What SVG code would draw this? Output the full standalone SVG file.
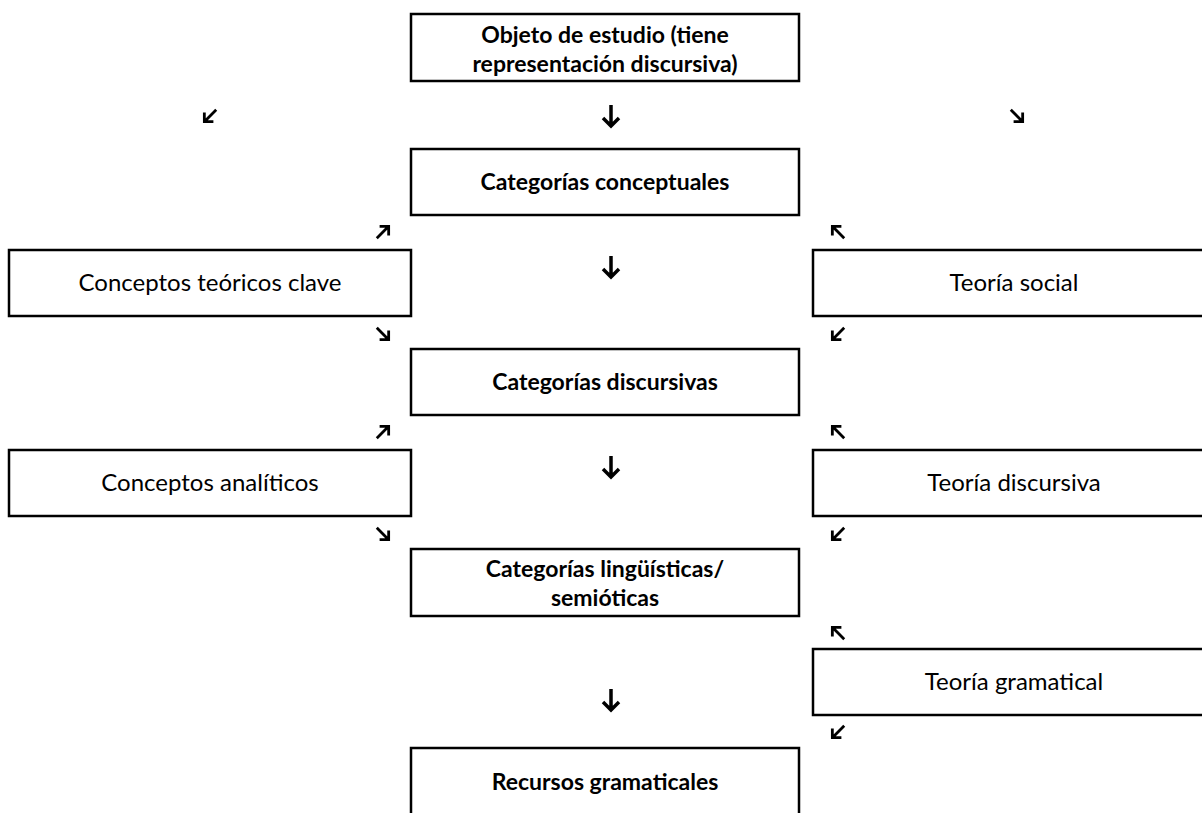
<svg xmlns="http://www.w3.org/2000/svg" width="1202" height="813" viewBox="0 0 1202 813">
<style>
.box{fill:#fff;stroke:#000;stroke-width:2.5}
.t{font-family:Lato,"Liberation Sans",sans-serif;font-size:24px;fill:#000;text-anchor:middle}
.b{font-weight:bold;font-size:23px}
.arr{fill:none;stroke:#000;stroke-width:3.5;stroke-linecap:butt;stroke-linejoin:miter}
</style>
<defs>
<g id="down"><path class="arr" d="M0,-11V10M-8,2L0,10L8,2"/></g>
</defs>
<rect width="1202" height="813" fill="#fff"/>
<g id="n-objeto"><rect class="box" x="411" y="14" width="388" height="67"/><text class="t b" x="605" y="43">Objeto de estudio (tiene</text><text class="t b" x="605" y="72">representación discursiva)</text></g>
<g id="n-conceptuales"><rect class="box" x="411" y="149" width="388" height="66"/><text class="t b" x="605" y="190">Categorías conceptuales</text></g>
<g id="n-teoricos"><rect class="box" x="9" y="250" width="402" height="66"/><text class="t" x="210" y="291">Conceptos teóricos clave</text></g>
<g id="n-social"><rect class="box" x="813" y="250" width="402" height="66"/><text class="t" x="1014" y="291">Teoría social</text></g>
<g id="n-discursivas"><rect class="box" x="411" y="349" width="388" height="66"/><text class="t b" x="605" y="390">Categorías discursivas</text></g>
<g id="n-analiticos"><rect class="box" x="9" y="450" width="402" height="66"/><text class="t" x="210" y="491">Conceptos analíticos</text></g>
<g id="n-tdiscursiva"><rect class="box" x="813" y="450" width="402" height="66"/><text class="t" x="1014" y="491">Teoría discursiva</text></g>
<g id="n-linguisticas"><rect class="box" x="411" y="549" width="388" height="67"/><text class="t b" x="605" y="577">Categorías lingüísticas/</text><text class="t b" x="605" y="606">semióticas</text></g>
<g id="n-gramatical"><rect class="box" x="813" y="649" width="402" height="66"/><text class="t" x="1014" y="690">Teoría gramatical</text></g>
<g id="n-recursos"><rect class="box" x="411" y="748" width="388" height="80"/><text class="t b" x="605" y="790">Recursos gramaticales</text></g>
<g id="connectors">
<use href="#down" transform="translate(210,116) rotate(45) scale(0.8)"/>
<use href="#down" transform="translate(611,116)"/>
<use href="#down" transform="translate(1017,116) rotate(-45) scale(0.8)"/>
<use href="#down" transform="translate(383,232) rotate(-135) scale(0.8)"/>
<use href="#down" transform="translate(838,232) rotate(135) scale(0.8)"/>
<use href="#down" transform="translate(611,267)"/>
<use href="#down" transform="translate(383,334) rotate(-45) scale(0.8)"/>
<use href="#down" transform="translate(838,334) rotate(45) scale(0.8)"/>
<use href="#down" transform="translate(383,432) rotate(-135) scale(0.8)"/>
<use href="#down" transform="translate(838,432) rotate(135) scale(0.8)"/>
<use href="#down" transform="translate(611,467)"/>
<use href="#down" transform="translate(383,534) rotate(-45) scale(0.8)"/>
<use href="#down" transform="translate(838,534) rotate(45) scale(0.8)"/>
<use href="#down" transform="translate(838,633) rotate(135) scale(0.8)"/>
<use href="#down" transform="translate(611,700)"/>
<use href="#down" transform="translate(838,732) rotate(45) scale(0.8)"/>
</g>
</svg>
